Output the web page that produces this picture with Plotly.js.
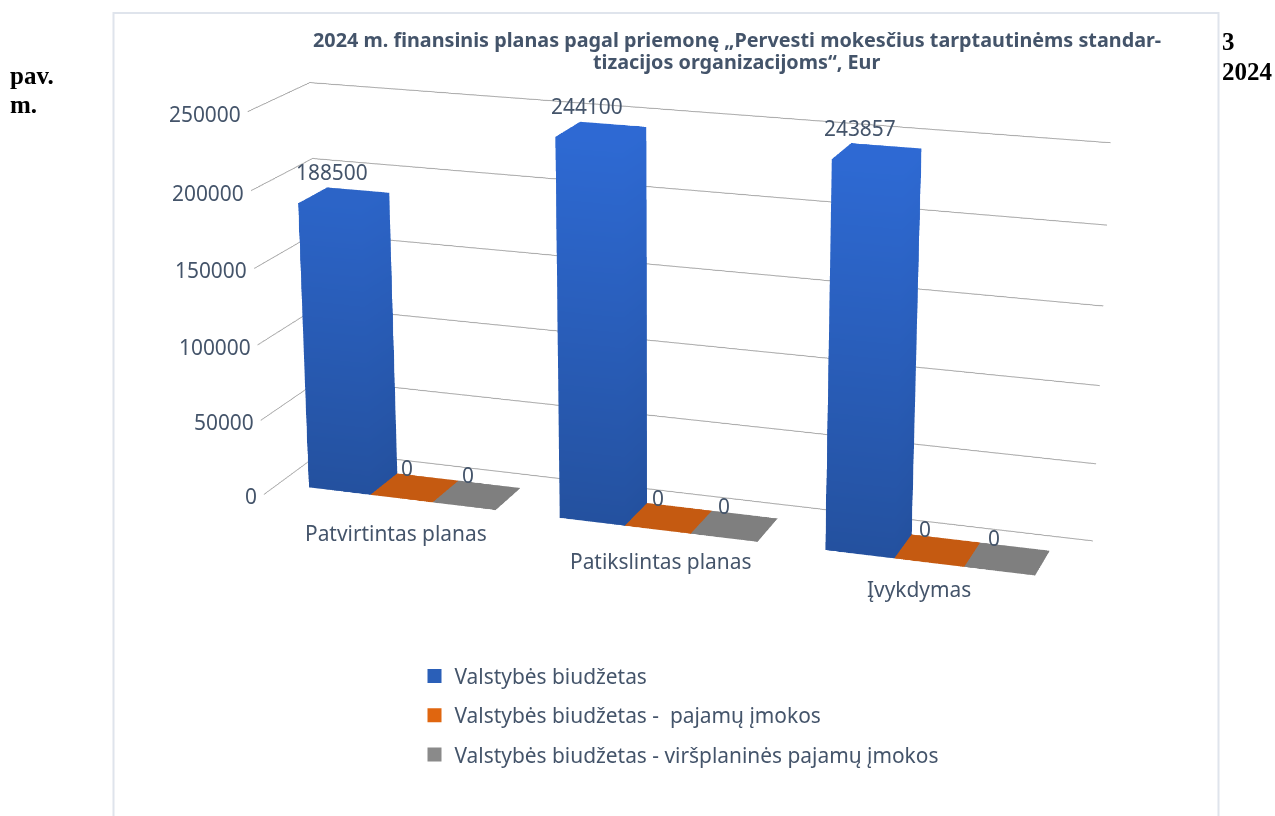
<!DOCTYPE html>
<html><head><meta charset="utf-8">
<script src="https://cdn.plot.ly/plotly-3.0.1.min.js"></script>
<style>html,body{margin:0;padding:0;width:1275px;height:816px;overflow:hidden;background:#fff}
#wrap{position:absolute;left:0;top:0;width:1275px;height:816px;overflow:hidden}
#g{position:absolute}</style></head><body><div id="wrap"><div id="g"></div></div>
<script>
const categories=["Patvirtintas planas","Patikslintas planas","Įvykdymas"];
const seriesNames=["Valstybės biudžetas","Valstybės biudžetas -  pajamų įmokos","Valstybės biudžetas - viršplaninės pajamų įmokos"];
const stateBudget=[188500,244100,243857];
const incomeReceipts=[0,0,0];
const extraReceipts=[0,0,0];
const zTicks=[0,50000,100000,150000,200000,250000];
const titleLines=['2024 m. finansinis planas pagal priemonę „Pervesti mokesčius tarptautinėms standar-','tizacijos organizacijoms“, Eur'];

const K=3, CX=669, CY=326, W=1275*K, H=816*K;
const L=CX-W/2, T=CY-H/2;
const el=document.getElementById('g');
el.style.left=L+'px'; el.style.top=T+'px'; el.style.width=W+'px'; el.style.height=H+'px';
const px=x=>(x-L)/W, py=y=>1-(y-T)/H;
const TXT='#44546a', FONT='"Noto Sans", sans-serif', FS=20.9;
const BW=0.25, GAP=0.125, Y0=0.24, Y1=0.72, ZMAX=250000;
const catShift=[[8,-23],[14,-20],[-1,-14]];
function bar(cat,ser,val,o){
  const a=cat+GAP+ser*BW,b=a+BW;
  return Object.assign({type:'mesh3d',
    x:[a,b,b,a,a,b,b,a],y:[Y0,Y0,Y1,Y1,Y0,Y0,Y1,Y1],z:[0,0,0,0,val,val,val,val],
    i:[0,0,4,4,0,0,1,1,2,2,3,3],j:[1,2,5,6,1,5,2,6,3,7,0,4],k:[2,3,6,7,5,4,6,5,7,6,4,7],
    flatshading:true,showscale:false,hoverinfo:'skip',showlegend:false,
    lighting:{ambient:1,diffuse:0,specular:0,roughness:1,fresnel:0},lightposition:{x:0,y:0,z:1000}},o);
}
const traces=[];
stateBudget.forEach((v,c)=>traces.push(bar(c,0,v,{intensity:[0,0,0,0,v,v,v,v],cmin:0,cmax:ZMAX,colorscale:[[0,'#24519f'],[1,'#2e6ad4']]})));
incomeReceipts.forEach((v,c)=>traces.push(bar(c,1,v,{color:'#c55a11'})));
extraReceipts.forEach((v,c)=>traces.push(bar(c,2,v,{color:'#7f7f7f'})));
['#2a5fb8','#e0660f','#8a8a8a'].forEach((col,n)=>traces.push({type:'scatter3d',mode:'markers',x:[null],y:[null],z:[null],name:seriesNames[n],legendgroup:'s'+n,showlegend:true,marker:{symbol:'square',size:14,color:col}}));

const D=7.0*K/3;
const dir={x:.305,y:-.90,z:.29};
const ax={showgrid:false,zeroline:false,showline:false,showticklabels:false,ticks:'',showspikes:false,showbackground:false,title:{text:''}};
const sceneAnn=[];
[stateBudget,incomeReceipts,extraReceipts].forEach((arr,s)=>arr.forEach((v,c)=>sceneAnn.push({x:c+GAP+s*BW+BW/2,y:Y1,z:v,text:String(v),showarrow:false,xshift:v>0?-26:-21,yshift:v>0?18:9,font:{family:FONT,size:FS,color:TXT}})));
categories.forEach((t,c)=>sceneAnn.push({x:c+.5,y:0,z:0,text:t,showarrow:false,xshift:catShift[c][0],yshift:catShift[c][1],font:{family:FONT,size:FS,color:TXT}}));
zTicks.forEach(v=>sceneAnn.push({x:0,y:0,z:v,text:String(v),showarrow:false,xanchor:'right',xshift:-5,yshift:-2,font:{family:FONT,size:FS,color:TXT}}));
function note(t,x,y,o){return Object.assign({xref:'paper',yref:'paper',x:px(x),y:py(y),text:t,showarrow:false,xanchor:'left',yanchor:'middle',font:{family:'"Liberation Serif",serif',size:25,color:'#000'}},o||{});}
const titleFont={family:FONT,size:19.8,color:TXT};
const layout={width:W,height:H,margin:{l:0,r:0,t:0,b:0},paper_bgcolor:'#fff',showlegend:true,
 legend:{x:px(414),y:py(656),xanchor:'left',yanchor:'top',font:{family:FONT,size:FS,color:TXT},tracegroupgap:9,bgcolor:'rgba(0,0,0,0)'},
 scene:{domain:{x:[0,1],y:[0,1]},bgcolor:'rgba(0,0,0,0)',aspectmode:'manual',aspectratio:{x:1.985,y:.34,z:.96},
  camera:{projection:{type:'perspective'},up:{x:0,y:0,z:1},center:{x:0,y:0,z:0},eye:{x:dir.x*D,y:dir.y*D,z:dir.z*D}},
  xaxis:Object.assign({},ax,{range:[0,3]}),yaxis:Object.assign({},ax,{range:[0,1]}),
  zaxis:Object.assign({},ax,{range:[0,ZMAX],tickvals:zTicks,showgrid:true,gridcolor:'#adadad',gridwidth:2}),
  annotations:sceneAnn},
 shapes:[{type:'path',xref:'paper',yref:'paper',path:`M ${px(113)} ${py(820)} L ${px(113)} ${py(13)} L ${px(1218)} ${py(13)} L ${px(1218)} ${py(820)}`,line:{color:'#dfe4ec',width:2}}],
 annotations:[
  {xref:'paper',yref:'paper',x:px(736),y:py(40),text:'<b>'+titleLines[0]+'</b>',showarrow:false,font:titleFont},
  {xref:'paper',yref:'paper',x:px(736),y:py(62),text:'<b>'+titleLines[1]+'</b>',showarrow:false,font:titleFont},
  note('<b>pav.</b>',7,76),note('<b>m.</b>',7,104),note('<b>3</b>',1219,42),note('<b>2024</b>',1219,72)]
};
Plotly.newPlot(el,traces,layout,{displayModeBar:false});
</script></body></html>
